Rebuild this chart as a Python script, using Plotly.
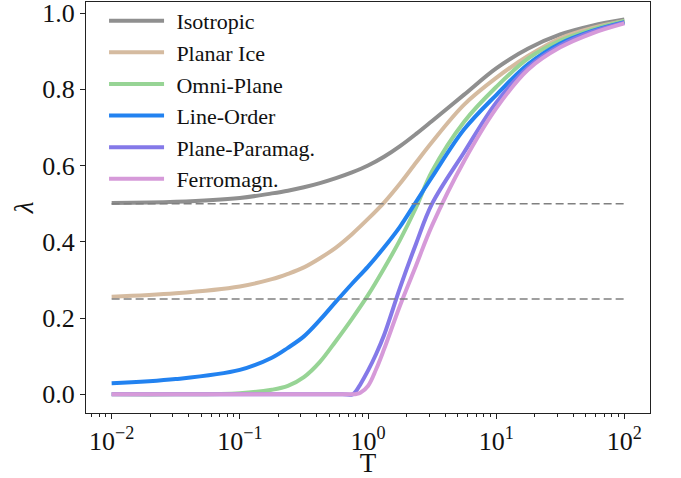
import plotly.graph_objects as go

# sample positions (log10 of T)
log_T_main = [-2, -1.5, -1, -0.75, -0.625, -0.5, -0.375, -0.25, -0.125, 0, 0.125, 0.25, 0.375, 0.5, 0.75, 1, 1.25, 1.5, 1.75, 2]
isotropic     = [0.502, 0.505, 0.515, 0.527, 0.534, 0.543, 0.554, 0.567, 0.582, 0.600, 0.623, 0.651, 0.683, 0.717, 0.786, 0.855, 0.907, 0.944, 0.967, 0.983]
planar_ice    = [0.256, 0.265, 0.283, 0.302, 0.316, 0.333, 0.357, 0.385, 0.420, 0.460, 0.503, 0.553, 0.608, 0.662, 0.760, 0.830, 0.888, 0.934, 0.961, 0.979]
omni_plane    = [0.000, 0.000, 0.003, 0.012, 0.022, 0.045, 0.085, 0.140, 0.198, 0.260, 0.330, 0.405, 0.490, 0.585, 0.715, 0.806, 0.881, 0.928, 0.957, 0.979]
line_order    = [0.029, 0.040, 0.064, 0.096, 0.122, 0.152, 0.195, 0.243, 0.290, 0.335, 0.385, 0.440, 0.505, 0.570, 0.695, 0.785, 0.866, 0.920, 0.953, 0.976]

# the two ordering curves stay at zero and rise sharply just below T = 1
log_T_onset = [-2, -1, -0.5, -0.2, -0.12, -0.09, -0.06, 0, 0.0625, 0.125, 0.25, 0.375, 0.5, 0.75, 1, 1.25, 1.5, 1.75, 2]
plane_paramag = [0.000, 0.000, 0.000, 0.000, 0.000, 0.010, 0.026, 0.062, 0.105, 0.155, 0.280, 0.395, 0.500, 0.635, 0.765, 0.858, 0.915, 0.951, 0.975]
ferromagn     = [0.000, 0.000, 0.000, 0.000, 0.000, 0.001, 0.004, 0.022, 0.065, 0.118, 0.233, 0.338, 0.443, 0.612, 0.750, 0.852, 0.910, 0.947, 0.973]

series_names = ["Isotropic", "Planar Ice", "Omni-Plane", "Line-Order", "Plane-Paramag.", "Ferromagn."]
series_grids = [log_T_main, log_T_main, log_T_main, log_T_main, log_T_onset, log_T_onset]
series_values = [isotropic, planar_ice, omni_plane, line_order, plane_paramag, ferromagn]
series_colors = ["#8f8f8f", "#d5bba0", "#97d495", "#2282f0", "#8479e8", "#d69ad9"]

ref_T = [0.01, 100]
ref_levels = [0.5, 0.25]

x_tickvals = [0.01, 0.1, 1, 10, 100]
x_ticktext = ["10<sup>−2</sup>", "10<sup>−1</sup>", "10<sup>0</sup>", "10<sup>1</sup>", "10<sup>2</sup>"]
y_tickvals = [0.0, 0.2, 0.4, 0.6, 0.8, 1.0]
y_ticktext = ["0.0", "0.2", "0.4", "0.6", "0.8", "1.0"]

minor_vals = [k * 10 ** e for e in range(-3, 3) for k in range(2, 10)]

FONT = "Liberation Serif"
PAD = "\u00a0\u200a"

fig = go.Figure()
for name, grid, vals, col in zip(series_names, series_grids, series_values, series_colors):
    fig.add_trace(go.Scatter(
        x=[10 ** v for v in grid], y=vals, name=PAD + name, mode="lines",
        line=dict(color=col, width=4, shape="spline", smoothing=1.0),
    ))

for lvl in ref_levels:
    fig.add_trace(go.Scatter(
        x=ref_T, y=[lvl, lvl], mode="lines", showlegend=False,
        line=dict(color="#808080", width=1.6, dash="8px,4px"),
    ))

axis_common = dict(
    showline=True, mirror=True, linecolor="#222222", linewidth=1.2,
    ticks="outside", ticklen=5, tickwidth=1, tickcolor="#222222",
    showgrid=False, zeroline=False, automargin=False,
    ticklabeloverflow="allow",
    tickfont=dict(family=FONT, size=26, color="#111111"),
)

fig.update_layout(
    width=681, height=478,
    margin=dict(l=86, r=31, t=2, b=65, autoexpand=False),
    plot_bgcolor="white", paper_bgcolor="white",
    font=dict(family=FONT, color="#111111"),
    showlegend=True,
    legend=dict(
        x=0.032, y=1.005, xanchor="left", yanchor="top",
        bgcolor="rgba(0,0,0,0)", borderwidth=0,
        font=dict(family=FONT, size=22, color="#111111", weight="normal"),
        itemwidth=55, traceorder="normal",
    ),
    xaxis=dict(
        type="log", range=[-2.2, 2.2],
        tickmode="array", tickvals=x_tickvals, ticktext=x_ticktext,
        minor=dict(tickmode="array", tickvals=minor_vals, ticks="outside",
                   ticklen=3, tickcolor="#222222", showgrid=False),
        title=dict(text="T", font=dict(family=FONT, size=27), standoff=3),
        **axis_common,
    ),
    yaxis=dict(
        range=[-0.049, 1.029],
        tickmode="array", tickvals=y_tickvals, ticktext=y_ticktext,
        title=dict(text="<i>λ</i>", font=dict(family=FONT, size=27), standoff=0),
        **axis_common,
    ),
)

fig.write_html("out.html")
